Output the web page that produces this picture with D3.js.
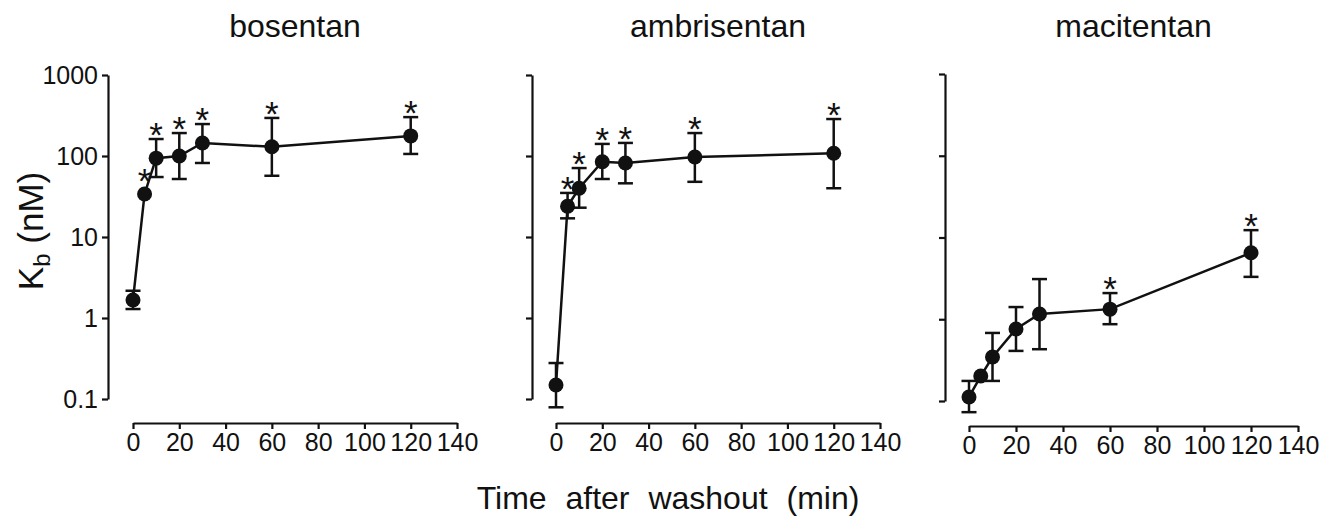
<!DOCTYPE html>
<html>
<head>
<meta charset="utf-8">
<script src="https://cdn.jsdelivr.net/npm/d3@7"></script>
<style>
  body { margin: 0; background: #fff; }
  svg { font-family: Arial, "Liberation Sans", sans-serif; }
</style>
</head>
<body>
<svg id="chart" width="1330" height="520"></svg>
<script>
// time points (min after washout)
const times = [0, 5, 10, 20, 30, 60, 120];

// Kb values (nM), upper / lower error bar ends, significance flags
const bosentanMean = [1.67, 34, 94, 100, 145, 130, 177];
const bosentanHi   = [2.17, null, 162, 192, 248, 295, 302];
const bosentanLo   = [1.29, null, 55, 52, 82, 57, 106];
const bosentanSig  = [0, 1, 1, 1, 1, 1, 1];

const ambrisentanMean = [0.149, 24, 40, 85, 82, 97, 108];
const ambrisentanHi   = [0.278, 35, 71, 141, 145, 192, 286];
const ambrisentanLo   = [0.079, 17, 23, 52, 46, 48, 40];
const ambrisentanSig  = [0, 1, 1, 1, 1, 1, 1];

const macitentanMean = [0.112, 0.202, 0.345, 0.76, 1.16, 1.33, 6.5];
const macitentanHi   = [0.176, null, 0.68, 1.41, 3.1, 2.09, 12.3];
const macitentanLo   = [0.073, null, 0.176, 0.41, 0.43, 0.87, 3.3];
const macitentanSig  = [0, 0, 0, 0, 0, 1, 1];

const drugs = ["bosentan", "ambrisentan", "macitentan"];
const yTicks = [0.1, 1, 10, 100, 1000];
const xTicks = [0, 20, 40, 60, 80, 100, 120, 140];

const series = [
  {mean: bosentanMean, hi: bosentanHi, lo: bosentanLo, sig: bosentanSig},
  {mean: ambrisentanMean, hi: ambrisentanHi, lo: ambrisentanLo, sig: ambrisentanSig},
  {mean: macitentanMean, hi: macitentanHi, lo: macitentanLo, sig: macitentanSig}
];

// panel layout
const layout = [
  {yAxisX: 108, x0: 133, x1: 457, yTop: 75, yBot: 399, xAxisY: 423, labels: true},
  {yAxisX: 532, x0: 556, x1: 880, yTop: 75, yBot: 399, xAxisY: 423, labels: false},
  {yAxisX: 945, x0: 969, x1: 1298, yTop: 74, yBot: 401, xAxisY: 426, labels: false}
];

const ink = "#111";
const svg = d3.select("#chart");

drugs.forEach((name, i) => {
  const L = layout[i];
  const s = series[i];

  const x = d3.scaleLinear().domain([0, 140]).range([L.x0, L.x1]);
  const y = d3.scaleLog().domain([0.1, 1000]).range([L.yBot, L.yTop]);

  const g = svg.append("g");

  // y axis
  const yAxis = d3.axisLeft(y)
    .tickValues(yTicks)
    .tickFormat(d => L.labels ? String(d) : "")
    .tickSize(6)
    .tickSizeOuter(0)
    .tickPadding(4);

  g.append("g")
    .attr("transform", `translate(${L.yAxisX},0)`)
    .call(yAxis)
    .call(a => a.selectAll("path, line").attr("stroke", ink).attr("stroke-width", 2.2))
    .call(a => a.selectAll("text").attr("fill", ink).attr("font-size", 25).attr("font-family", null));

  // x axis
  const xAxis = d3.axisBottom(x)
    .tickValues(xTicks)
    .tickSize(6)
    .tickSizeOuter(0)
    .tickPadding(4);

  g.append("g")
    .attr("transform", `translate(0,${L.xAxisY})`)
    .call(xAxis)
    .call(a => a.selectAll("path, line").attr("stroke", ink).attr("stroke-width", 2.2))
    .call(a => a.selectAll("text").attr("fill", ink).attr("font-size", 25).attr("font-family", null));

  // title
  g.append("text")
    .attr("x", (L.x0 + L.x1) / 2)
    .attr("y", 37)
    .attr("text-anchor", "middle")
    .attr("font-size", 32)
    .attr("fill", ink)
    .text(name);

  const pts = times.map((t, k) => ({t, v: s.mean[k], hi: s.hi[k], lo: s.lo[k], sig: s.sig[k]}));

  // error bars
  const eb = g.append("g").attr("stroke", ink).attr("stroke-width", 2.5).attr("fill", "none");
  pts.filter(d => d.hi != null).forEach(d => {
    const cx = x(d.t);
    eb.append("line").attr("x1", cx).attr("x2", cx).attr("y1", y(d.hi)).attr("y2", y(d.lo));
    eb.append("line").attr("x1", cx - 7.5).attr("x2", cx + 7.5).attr("y1", y(d.hi)).attr("y2", y(d.hi));
    eb.append("line").attr("x1", cx - 7.5).attr("x2", cx + 7.5).attr("y1", y(d.lo)).attr("y2", y(d.lo));
  });

  // connecting line
  const line = d3.line().x(d => x(d.t)).y(d => y(d.v));
  g.append("path")
    .datum(pts)
    .attr("d", line)
    .attr("fill", "none")
    .attr("stroke", ink)
    .attr("stroke-width", 2.5);

  // points
  g.selectAll("circle.pt")
    .data(pts)
    .join("circle")
    .attr("class", "pt")
    .attr("cx", d => x(d.t))
    .attr("cy", d => y(d.v))
    .attr("r", 7.5)
    .attr("fill", ink);

  // significance stars
  g.selectAll("text.star")
    .data(pts.filter(d => d.sig))
    .join("text")
    .attr("class", "star")
    .attr("x", d => x(d.t))
    .attr("y", d => {
      const top = d.hi != null ? Math.min(y(d.hi), y(d.v) - 9) : y(d.v) - 9;
      return top - 11 + 19;
    })
    .attr("text-anchor", "middle")
    .attr("font-size", 35)
    .attr("fill", ink)
    .text("*");
});

// y axis label
const yLab = svg.append("text")
  .attr("transform", "translate(43,231) rotate(-90)")
  .attr("text-anchor", "middle")
  .attr("font-size", 35)
  .attr("fill", ink);
yLab.append("tspan").text("K");
yLab.append("tspan").attr("font-size", 24).attr("dy", 7).text("b");
yLab.append("tspan").attr("dy", -7).text(" (nM)");

// x axis label
svg.append("text")
  .attr("x", 668)
  .attr("y", 509)
  .attr("text-anchor", "middle")
  .attr("font-size", 32)
  .attr("word-spacing", 10)
  .attr("fill", ink)
  .text("Time after washout (min)");
</script>
</body>
</html>
